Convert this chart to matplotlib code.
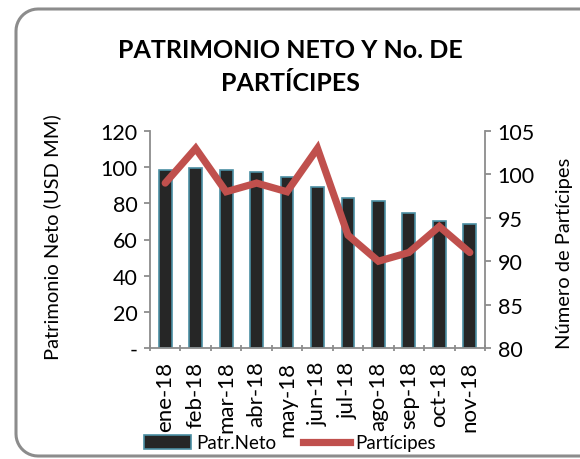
import numpy as np
import matplotlib.pyplot as plt
from matplotlib.lines import Line2D
from matplotlib.patches import Patch
from matplotlib.transforms import IdentityTransform

months = ["ene-18", "feb-18", "mar-18", "abr-18", "may-18", "jun-18",
          "jul-18", "ago-18", "sep-18", "oct-18", "nov-18"]
patrimonio = [98.5, 99.4, 98.5, 97.2, 94.3, 88.8, 82.7, 81.3, 74.8, 70.4, 68.4]
participes = [99, 103, 98, 99, 98, 103, 93, 90, 91, 94, 91]
left_ticks = [0, 20, 40, 60, 80, 100, 120]
left_labels = ["-", "20", "40", "60", "80", "100", "120"]
right_ticks = [80, 85, 90, 95, 100, 105]


def rounded_frame(x0, y0, y1, r, x_end):
    # left half of a rounded frame (open), display pixels from bottom-left
    a_top = np.radians(np.linspace(90, 180, 12))
    a_bot = np.radians(np.linspace(180, 270, 12))
    xs = [x_end] + list(x0 + r + r * np.cos(a_top)) + list(x0 + r + r * np.cos(a_bot)) + [x_end]
    ys = [y1] + list(y1 - r + r * np.sin(a_top)) + list(y0 + r + r * np.sin(a_bot)) + [y0]
    return Line2D(xs, ys, transform=IdentityTransform(), color="#8c8c8c",
                  linewidth=2.2, solid_joinstyle="round")


def main():
    plt.rcParams["font.family"] = ["Lato", "DejaVu Sans"]
    fig = plt.figure(figsize=(5.8, 4.6), dpi=100)

    fig.add_artist(rounded_frame(16, 3, 450, 22, 620))

    ax = fig.add_axes([150 / 580, 1 - 349 / 460, 335 / 580, 217 / 460])
    x = range(len(months))
    ax.bar(x, patrimonio, width=0.42, color="#262626", edgecolor="#4b8fa3",
           linewidth=1.2, zorder=2)
    ax.set_xlim(-0.5, len(months) - 0.5)
    ax.set_ylim(0, 120)
    ax.set_yticks(left_ticks)
    ax.set_yticklabels(left_labels)
    ax.set_xticks(list(x))
    ax.set_xticklabels(months, rotation=90)
    ax.set_xticks([i - 0.5 for i in range(len(months) + 1)], minor=True)
    ax.tick_params(axis="x", which="major", length=0, labelsize=16, pad=9)
    ax.tick_params(axis="x", which="minor", length=5, direction="inout",
                   color="#8c8c8c", width=1.3)
    ax.tick_params(axis="y", length=4, color="#8c8c8c", width=1.3, labelsize=15.5, pad=5)
    for side in ["top", "right"]:
        ax.spines[side].set_visible(False)
    for side in ["left", "bottom"]:
        ax.spines[side].set_color("#8c8c8c")
        ax.spines[side].set_linewidth(1.3)
    ax.set_ylabel("Patrimonio Neto (USD MM)", fontsize=14.5)
    ax.yaxis.set_label_coords(-0.266, 0.514)

    ax2 = ax.twinx()
    ax2.plot(list(x), participes, color="#c0504d", linewidth=5.2, zorder=3,
             solid_joinstyle="miter", solid_capstyle="round")
    ax2.set_ylim(80, 105)
    ax2.set_yticks(right_ticks)
    ax2.tick_params(axis="y", length=4, color="#8c8c8c", width=1.3, labelsize=15.5, pad=5)
    for side in ["top", "left", "bottom"]:
        ax2.spines[side].set_visible(False)
    ax2.spines["right"].set_color("#8c8c8c")
    ax2.spines["right"].set_linewidth(1.3)
    ax2.set_ylabel("Número de Partícipes", fontsize=14.5)
    ax2.yaxis.set_label_coords(1.212, 0.44)

    fig.text(0.5, 1 - 67 / 460, "PATRIMONIO NETO Y No. DE\nPARTÍCIPES", ha="center",
             va="center", fontsize=18, fontweight="bold", linespacing=1.5)

    handles = [Patch(facecolor="#262626", edgecolor="#4b8fa3", linewidth=1.2),
               Line2D([0], [0], color="#c0504d", linewidth=5.2)]
    fig.legend(handles, ["Patr.Neto", "Partícipes"], loc="center",
               bbox_to_anchor=(0.5, 1 - 444 / 460), ncol=2, frameon=False,
               fontsize=13.5, handlelength=2.5, handletextpad=0.3, columnspacing=1.4)

    fig.savefig("out.png", dpi=100)


if __name__ == "__main__":
    main()
